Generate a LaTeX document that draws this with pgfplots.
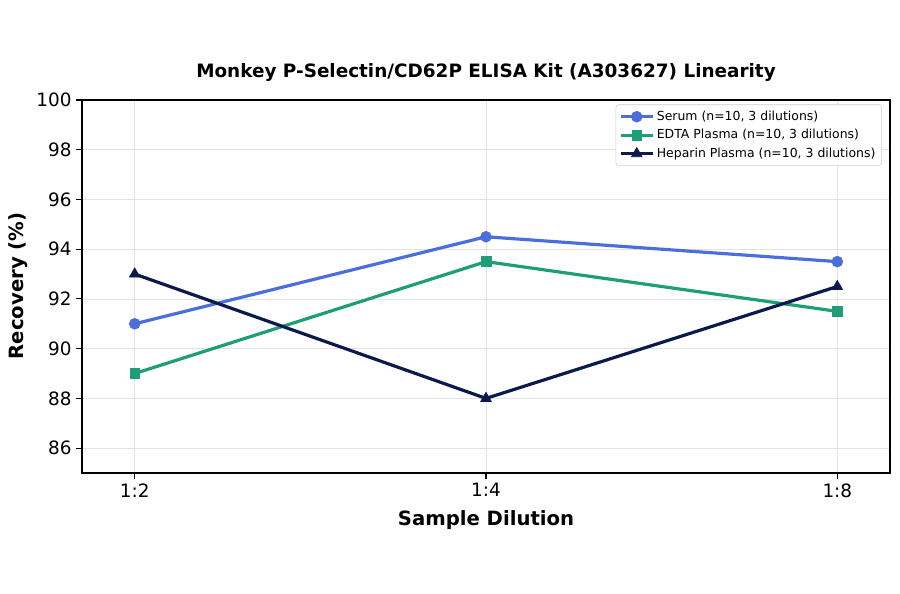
\documentclass[border=0pt]{standalone}
\usepackage{pgfplots}
\pgfplotsset{compat=1.18}
\usepackage{fontspec}
\setmainfont{DejaVu Sans}
\definecolor{serum}{HTML}{4A6FDC}
\definecolor{edta}{HTML}{1E9E74}
\definecolor{heparin}{HTML}{0B1A4C}
\begin{document}
\begin{tikzpicture}
\path (0,0) rectangle (9in,5.94in);
\begin{axis}[
  at={(0.82in,1.21in)}, anchor=south west,
  scale only axis, width=8.08in, height=3.73in,
  xmin=-0.15, xmax=2.15, ymin=85, ymax=100,
  xtick={0,1,2}, xticklabels={1:2,1:4,1:8},
  ytick={86,88,...,100},
  tick align=outside, tick pos=left,
  major tick length=4pt,
  axis line style={line width=1pt},
  every tick/.style={black, line width=0.8pt},
  grid=major, grid style={gray!22, line width=0.5pt},
  ticklabel style={font=\fontsize{13.3}{15}\selectfont},
  /pgf/number format/assume math mode=true,
  legend style={at={(0.99,0.988)}, anchor=north east, font=\fontsize{9}{11}\selectfont,
    draw=gray!40, rounded corners=2pt, row sep=1pt, inner sep=2.5pt},
  legend cell align=left,
  legend image code/.code={\draw[mark repeat=2,mark phase=2,#1] plot coordinates {(0cm,0cm) (0.4cm,0cm) (0.8cm,0cm)};},
]
\addplot[serum, line width=2.3pt, mark=*, mark size=3.9pt, mark options={solid, line width=0.5pt}] coordinates {(0,91.0) (1,94.5) (2,93.5)};
\addlegendentry{Serum (n=10, 3 dilutions)}
\addplot[edta, line width=2.3pt, mark=square*, mark size=3.5pt, mark options={solid, line width=0.5pt}] coordinates {(0,89.0) (1,93.5) (2,91.5)};
\addlegendentry{EDTA Plasma (n=10, 3 dilutions)}
\addplot[heparin, line width=2.3pt, mark=triangle*, mark size=4.4pt, mark options={solid, line width=0.5pt}] coordinates {(0,93.0) (1,88.0) (2,92.5)};
\addlegendentry{Heparin Plasma (n=10, 3 dilutions)}
\end{axis}
\node[font=\bfseries\fontsize{13.3}{16}\selectfont] at (4.86in,5.21in) {Monkey P-Selectin/CD62P ELISA Kit (A303627) Linearity};
\node[font=\bfseries\fontsize{14.2}{16}\selectfont] at (4.86in,0.74in) {Sample Dilution};
\node[font=\bfseries\fontsize{14.2}{16}\selectfont, rotate=90] at (0.18in,3.08in) {Recovery (\%)};
\end{tikzpicture}
\end{document}
